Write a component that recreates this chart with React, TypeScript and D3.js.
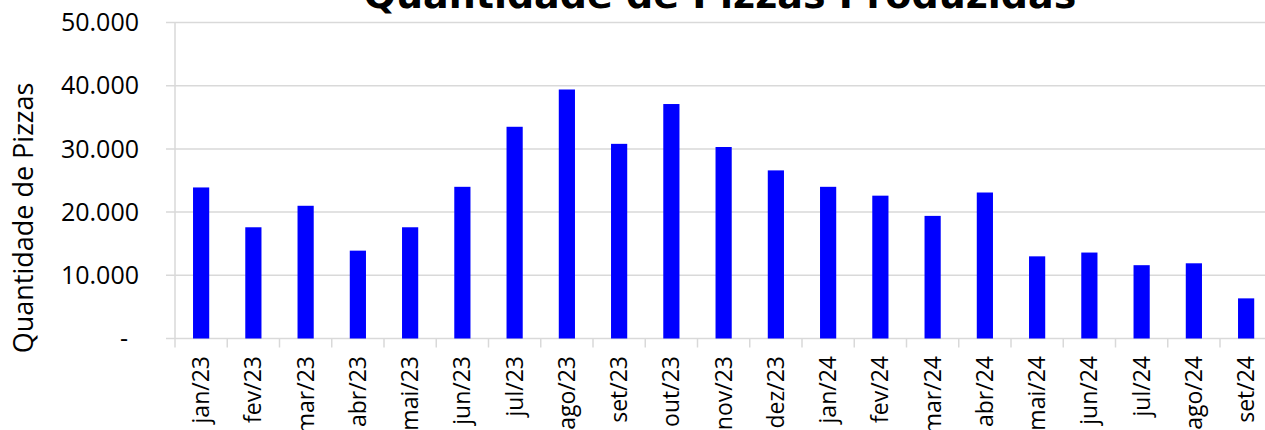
import React from "react";
import * as d3 from "d3";

const categories = [
  "jan/23", "fev/23", "mar/23", "abr/23", "mai/23", "jun/23", "jul/23",
  "ago/23", "set/23", "out/23", "nov/23", "dez/23", "jan/24", "fev/24",
  "mar/24", "abr/24", "mai/24", "jun/24", "jul/24", "ago/24", "set/24",
];
const pizzas = [
  23900, 17600, 21000, 13900, 17600, 24000, 33500,
  39400, 30800, 37100, 30300, 26600, 24000, 22600,
  19400, 23100, 13000, 13600, 11600, 11900, 6350,
];
const yTicks = [0, 10000, 20000, 30000, 40000, 50000];
const title = "Quantidade de Pizzas Produzidas";
const yTitle = "Quantidade de Pizzas";

const W = 1265;
const H = 430;
const left = 175;
const step = 52.25;
const top = 22.5;
const bottom = 338.5;

const fmt = (v: number) =>
  v === 0 ? "-" : d3.format(",")(v).replace(/,/g, ".");

export default function App() {
  const x = d3
    .scaleBand<string>()
    .domain(categories)
    .range([left, left + step * categories.length])
    .paddingInner(0.69)
    .paddingOuter(0.345);
  const y = d3.scaleLinear().domain([0, 50000]).range([bottom, top]);
  const grid = "#d9d9d9";
  const font = "'Open Sans', 'Noto Sans', sans-serif";
  const boundaries = d3.range(categories.length + 1).map((i) => left + i * step);

  return (
    <svg
      width={W}
      height={H}
      style={{ position: "absolute", left: 0, top: 0, background: "#fff" }}
    >
      {yTicks.map((t) => (
        <line
          key={"g" + t}
          x1={166}
          x2={W}
          y1={y(t)}
          y2={y(t)}
          stroke={grid}
          strokeWidth={1.5}
        />
      ))}
      <line x1={left} x2={left} y1={y(50000)} y2={y(0)} stroke={grid} strokeWidth={1.5} />
      {boundaries.map((bx, i) => (
        <line
          key={"t" + i}
          x1={bx}
          x2={bx}
          y1={y(0)}
          y2={y(0) + 9}
          stroke={grid}
          strokeWidth={1.5}
        />
      ))}
      {categories.map((c, i) => (
        <rect
          key={c + i}
          x={x(c)}
          y={y(pizzas[i])}
          width={x.bandwidth()}
          height={y(0) - y(pizzas[i])}
          fill="#0000ff"
        />
      ))}
      {yTicks.map((t) => (
        <text
          key={"l" + t}
          x={t === 0 ? 128 : 139}
          y={y(t)}
          dy="0.35em"
          textAnchor="end"
          fontFamily={font}
          fontSize={25}
          fill="#000"
        >
          {fmt(t)}
        </text>
      ))}
      {categories.map((c, i) => {
        const cx = (x(c) as number) + x.bandwidth() / 2;
        return (
          <text
            key={"x" + i}
            transform={`translate(${cx},356) rotate(-90)`}
            dy="0.35em"
            textAnchor="end"
            fontFamily={font}
            fontSize={23}
            fill="#000"
          >
            {c}
          </text>
        );
      })}
      <text
        transform={`translate(33,218) rotate(-90)`}
        textAnchor="middle"
        fontFamily={font}
        fontSize={27}
        fill="#000"
      >
        {yTitle}
      </text>
      <text
        x={720}
        y={8}
        textAnchor="middle"
        fontFamily="'DejaVu Sans', sans-serif"
        fontWeight="bold"
        fontSize={38}
        fill="#000"
      >
        {title}
      </text>
    </svg>
  );
}
